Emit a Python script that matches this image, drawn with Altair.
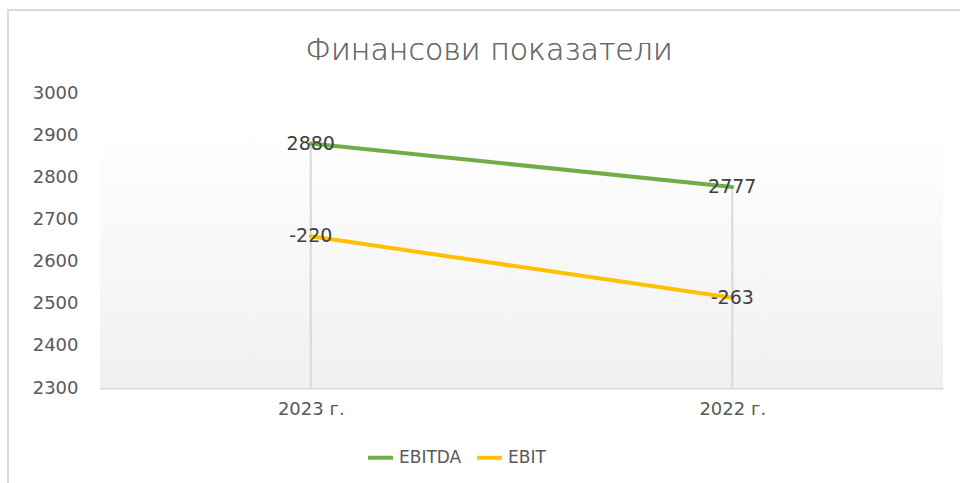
import altair as alt
import pandas as pd

years = ["2023 г.", "2022 г."]
ebitda = [2880, 2777]
ebit = [-220, -263]
series = ["EBITDA", "EBIT"]
colors = ["#70AD47", "#FFC000"]
y_ticks = [2300, 2400, 2500, 2600, 2700, 2800, 2900, 3000]

rows = []
for i, yr in enumerate(years):
    rows.append({"year": yr, "series": "EBITDA", "label": str(ebitda[i]), "pos": ebitda[i], "order": 0})
    rows.append({"year": yr, "series": "EBIT", "label": str(ebit[i]), "pos": ebitda[i] + ebit[i], "order": 1})
df = pd.DataFrame(rows)
drop_df = pd.DataFrame({"year": years, "top": ebitda})

W, H = 843, 295
FONT = "DejaVu Sans"
GRAY = "#595959"

xscale = alt.Scale(type="point", padding=0.5)
xenc = alt.X("year:N", sort=years, scale=xscale,
             axis=alt.Axis(title=None, labelAngle=0, labelAlign="center", labelFlush=False,
                           labelFontSize=18, labelColor=GRAY,
                           labelFont=FONT, labelPadding=21, ticks=False,
                           domainColor="#d9d9d9", domainWidth=2, grid=False))
yscale = alt.Scale(domain=[2300, 3000], nice=False, zero=False)
yenc = alt.Y("pos:Q", scale=yscale,
             axis=alt.Axis(title=None, values=y_ticks, format="d", labelFontSize=18,
                           labelColor=GRAY, labelFont=FONT, labelPadding=22, ticks=False,
                           domain=False, grid=False))

frame = alt.Chart(drop_df).mark_rect(fill=None, stroke="#d9d9d9", strokeWidth=2).encode(
    x=alt.value(-92), x2=alt.value(W + 120), y=alt.value(-83), y2=alt.value(H + 200)
)

bg = alt.Chart(drop_df).mark_rect(
    color=alt.Gradient(gradient="linear", x1=0, y1=0, x2=0, y2=1,
                       stops=[alt.GradientStop(offset=0, color="#ffffff"),
                              alt.GradientStop(offset=1, color="#f0f0f0")])
).encode(x=alt.value(0), x2=alt.value(W), y=alt.value(35), y2=alt.value(H))

drops = alt.Chart(drop_df).mark_rule(color="#d9d9d9", strokeWidth=2).encode(
    x=alt.X("year:N", sort=years, scale=xscale),
    y=alt.Y("top:Q", scale=yscale),
    y2=alt.value(H),
)

lines = alt.Chart(df).mark_line(strokeWidth=4, strokeCap="round").encode(
    x=xenc, y=yenc,
    color=alt.Color("series:N", sort=series,
                    scale=alt.Scale(domain=series, range=colors),
                    legend=alt.Legend(title=None, orient="none", direction="horizontal",
                                      legendX=266, legendY=350, symbolType="stroke",
                                      symbolSize=620, symbolStrokeWidth=4,
                                      labelFontSize=17, labelColor=GRAY, labelFont=FONT,
                                      labelOffset=4, columnPadding=7)),
    order="order:Q",
)

labels = alt.Chart(df).mark_text(fontSize=19, color="#404040", font=FONT,
                                 align="center", baseline="middle").encode(
    x=alt.X("year:N", sort=years, scale=xscale),
    y=alt.Y("pos:Q", scale=yscale),
    text="label:N",
)

title = alt.Chart(drop_df).mark_text(fontSize=30, font=FONT, color="#6b6b6b",
                                     fontWeight=300,
                                     align="center", baseline="middle").encode(
    x=alt.value(389), y=alt.value(-42), text=alt.value("Финансови показатели")
)

chart = alt.layer(frame, bg, drops, lines, labels, title).properties(
    width=W, height=H, background="white",
    autosize=alt.AutoSizeParams(type="none"),
    padding={"left": 100, "top": 93, "right": 17, "bottom": 95},
).configure_view(stroke="transparent", strokeWidth=0)

chart.save("out.html", embed_options={"renderer": "svg", "actions": False})
